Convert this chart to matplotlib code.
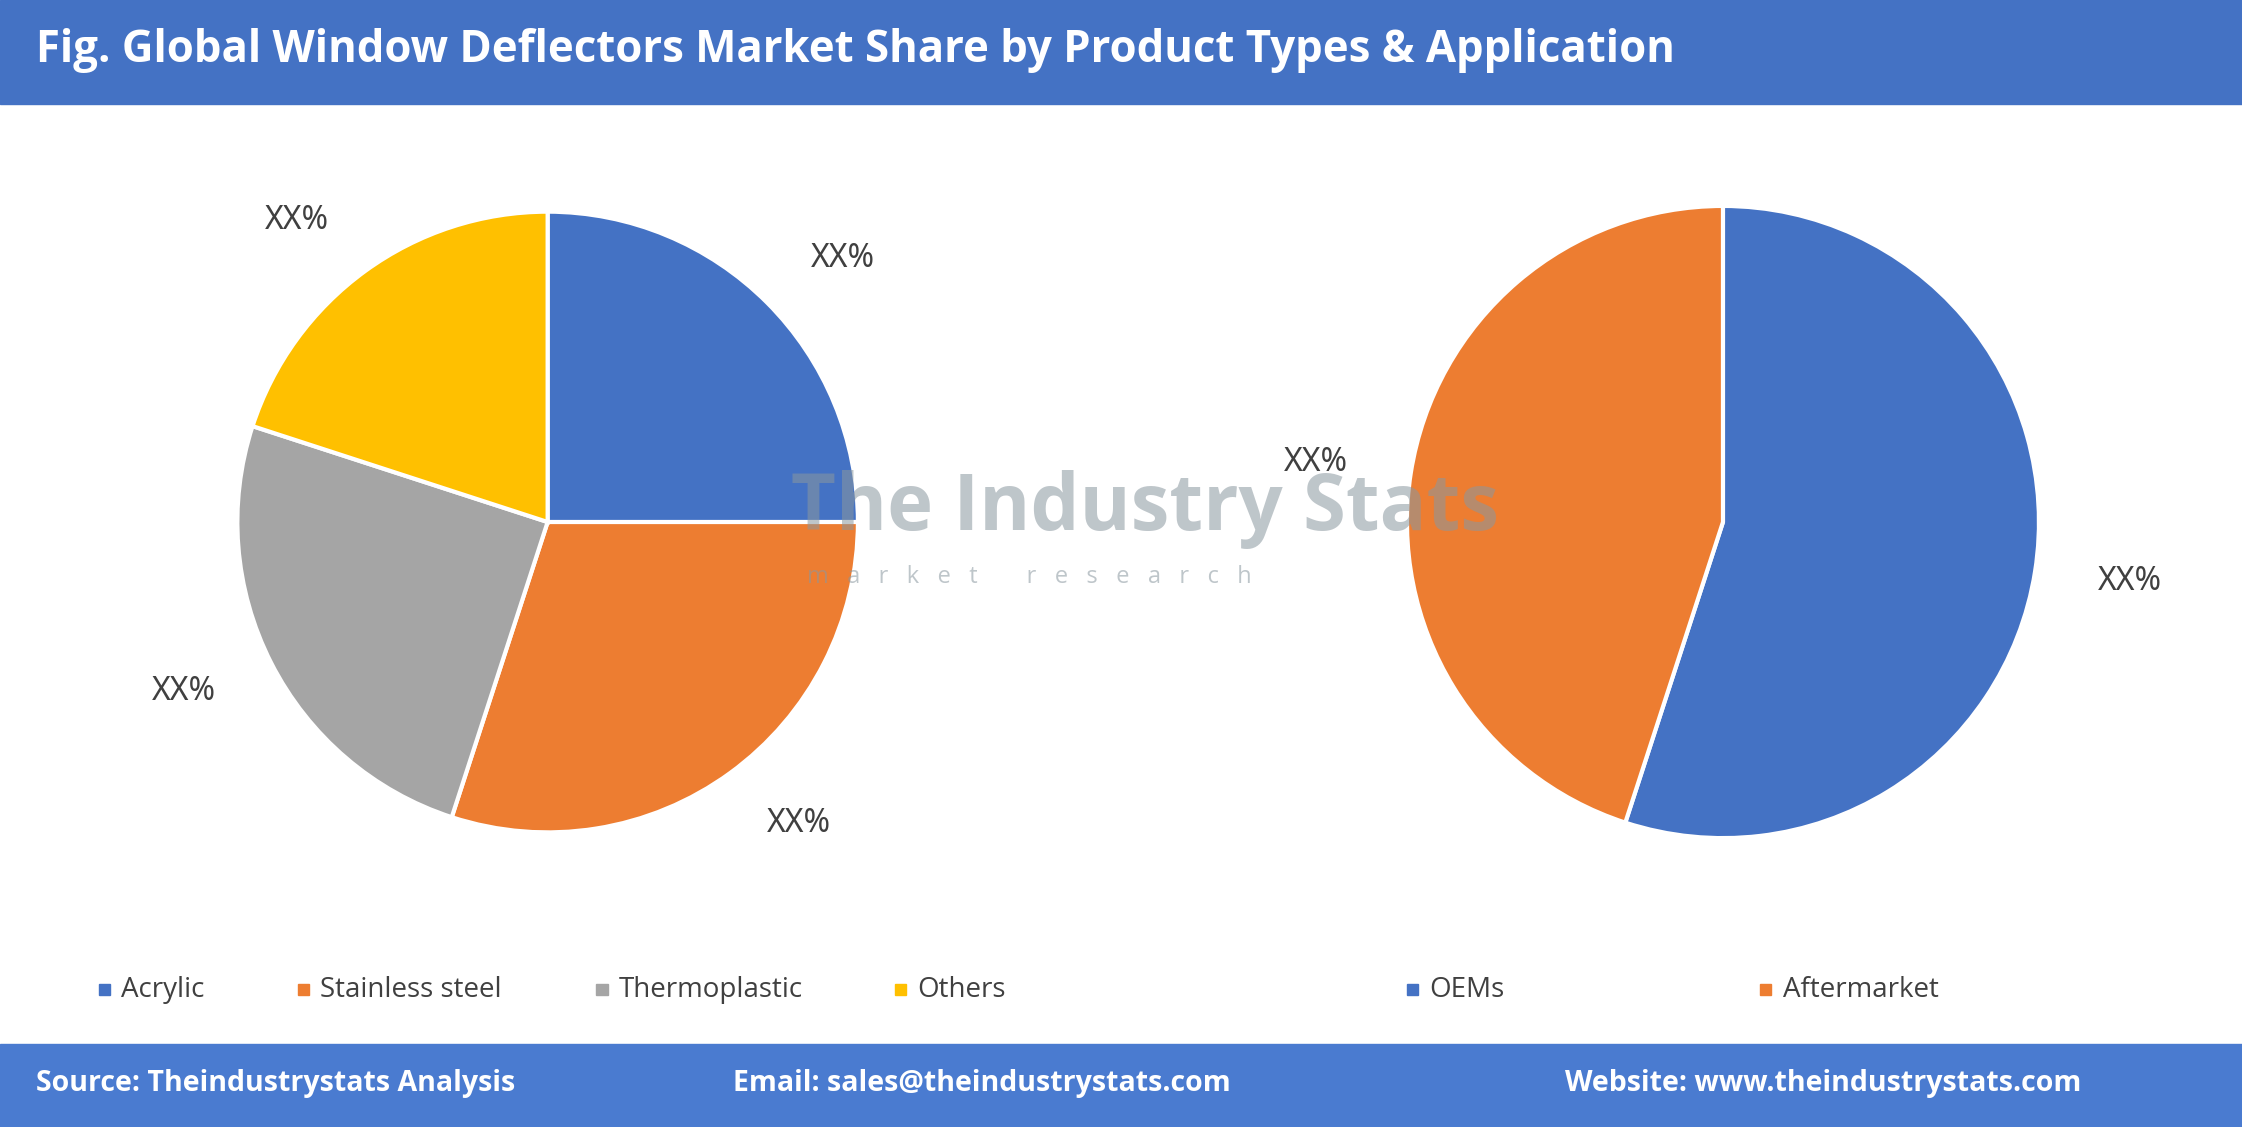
import matplotlib
matplotlib.use("Agg")
import matplotlib.pyplot as plt
from matplotlib.patches import Rectangle

title = "Fig. Global Window Deflectors Market Share by Product Types & Application"
types = ["Acrylic", "Stainless steel", "Thermoplastic", "Others"]
type_vals = [25, 30, 25, 20]
apps = ["OEMs", "Aftermarket"]
app_vals = [55, 45]
colors = ["#4472C4", "#ED7D31", "#A5A5A5", "#FFC000"]

W, H = 2242, 1127
fig = plt.figure(figsize=(W/100, H/100), dpi=100)
fig.patch.set_facecolor("white")
fs = "Open Sans"

fig.add_artist(Rectangle((0, 0.908), 1, 0.092, transform=fig.transFigure, color="#4472C4"))
fig.text(0.016, 0.955, title, color="white", fontsize=31.5, fontweight="bold", va="center", family=fs)
fig.add_artist(Rectangle((0, 0), 1, 0.074, transform=fig.transFigure, color="#4A7BD0"))
fig.text(0.016, 0.039, "Source: Theindustrystats Analysis", color="white", fontsize=20.5, fontweight="bold", va="center", family=fs)
fig.text(0.327, 0.039, "Email: sales@theindustrystats.com", color="white", fontsize=20.5, fontweight="bold", va="center", family=fs)
fig.text(0.698, 0.039, "Website: www.theindustrystats.com", color="white", fontsize=20.5, fontweight="bold", va="center", family=fs)

def make_pie(cx, cy, r_px, vals, cols):
    rw = r_px / 1568
    rh = r_px / 788
    ax = fig.add_axes([cx - rw, cy - rh, 2*rw, 2*rh])
    wedges, texts = ax.pie(vals, colors=cols, startangle=90, counterclock=False,
                           labels=["XX%"]*len(vals), labeldistance=1.2,
                           wedgeprops=dict(edgecolor="white", linewidth=3),
                           textprops=dict(fontsize=23, color="#404040", family="Noto Sans"))
    ax.set_xlim(-1, 1); ax.set_ylim(-1, 1)
    ax.set_aspect("auto")
    for t in texts:
        t.set_clip_on(False)
    return ax

make_pie(383/1568, 1-365/788, 217, type_vals, colors)
make_pie(1205/1568, 1-365/788, 221, app_vals, colors[:2])

# watermark
fig.text(0.353, 0.548, "The Industry Stats", fontsize=56, fontweight="bold", color="#8a979f", alpha=0.55, va="center", family=fs)
fig.text(0.36, 0.488, "m   a   r   k   e   t        r   e   s   e   a   r   c   h", fontsize=17, color="#8a979f", alpha=0.55, va="center", family=fs)

leg = [("Acrylic", 73, colors[0]), ("Stainless steel", 212, colors[1]), ("Thermoplastic", 421, colors[2]),
       ("Others", 630, colors[3]), ("OEMs", 988, colors[0]), ("Aftermarket", 1235, colors[1])]
ly = 1 - 692/788
for name, x, c in leg:
    fig.add_artist(Rectangle((x/1568 - 0.0025, ly - 0.005), 0.005, 0.01, transform=fig.transFigure, color=c))
    fig.text(x/1568 + 0.0075, ly, name, fontsize=20, color="#404040", va="center", family=fs)

fig.savefig("out.png", dpi=100)
